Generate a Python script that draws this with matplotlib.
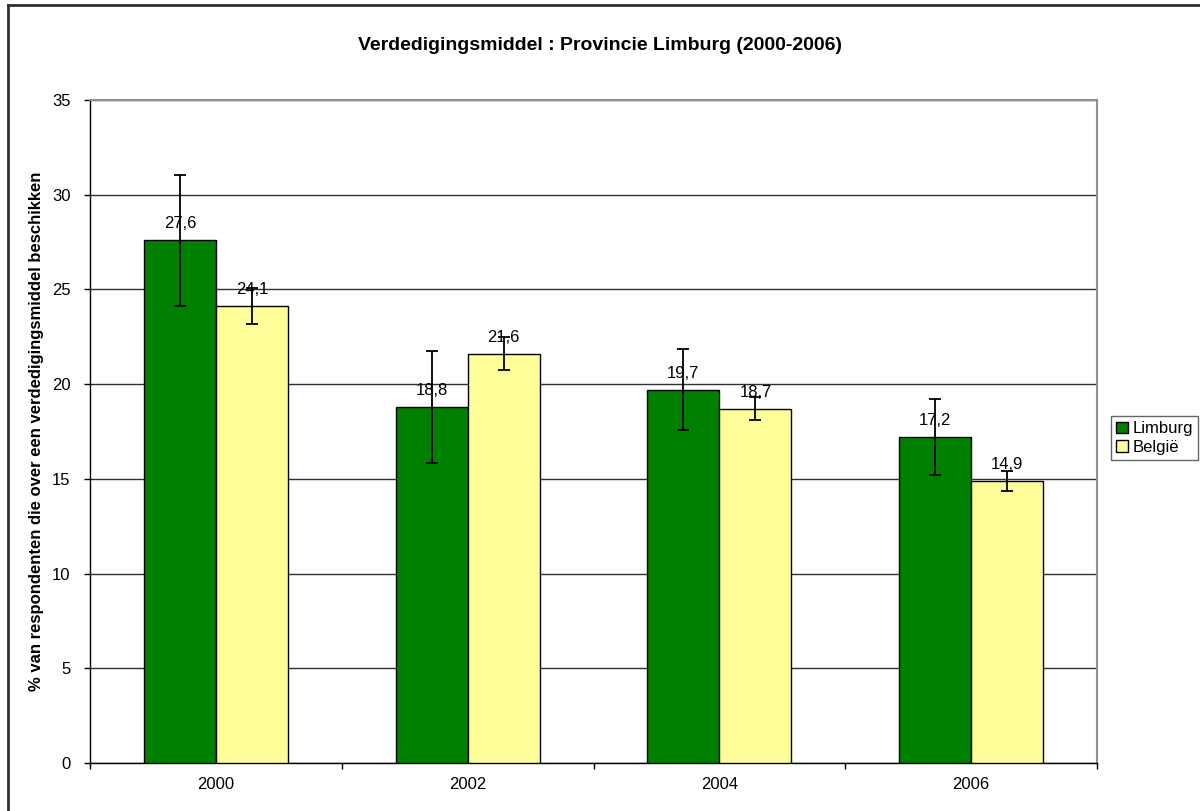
import numpy as np
import matplotlib
matplotlib.use('Agg')
import matplotlib.pyplot as plt
from matplotlib.patches import Patch
from matplotlib.lines import Line2D

plt.rcParams['font.family'] = ['Liberation Sans', 'DejaVu Sans']

# data
jaren = ['2000', '2002', '2004', '2006']
limburg = [27.6, 18.8, 19.7, 17.2]
belgie = [24.1, 21.6, 18.7, 14.9]
limburg_err = [3.45, 2.95, 2.14, 2.0]
belgie_err = [0.95, 0.87, 0.6, 0.53]

groen = '#008000'
geel = '#FFFF99'

fig = plt.figure(figsize=(12, 8.11), dpi=100)
ax = fig.add_axes([90 / 1200, 48 / 811, 1007 / 1200, 663 / 811])

x = np.arange(len(jaren))
w = 0.286
ax.bar(x - w / 2, limburg, w, color=groen, edgecolor='black', linewidth=1, zorder=3)
ax.bar(x + w / 2, belgie, w, color=geel, edgecolor='black', linewidth=1, zorder=3)
ax.errorbar(x - w / 2, limburg, yerr=limburg_err, fmt='none', ecolor='black',
            elinewidth=1.3, capsize=4, capthick=1.3, zorder=4)
ax.errorbar(x + w / 2, belgie, yerr=belgie_err, fmt='none', ecolor='black',
            elinewidth=1.3, capsize=4, capthick=1.3, zorder=4)

for xi, v in zip(x - w / 2, limburg):
    ax.annotate(f'{v:.1f}'.replace('.', ','), (xi, v), xytext=(0, 12),
                textcoords='offset points', ha='center', va='center', fontsize=12, zorder=5)
for xi, v in zip(x + w / 2, belgie):
    ax.annotate(f'{v:.1f}'.replace('.', ','), (xi, v), xytext=(0, 12),
                textcoords='offset points', ha='center', va='center', fontsize=12, zorder=5)

ax.set_xlim(-0.5, len(jaren) - 0.5)
ax.set_ylim(0, 35)
ax.set_yticks(range(0, 36, 5))
ax.yaxis.grid(True, color='#303030', linewidth=1, zorder=0)
ax.set_axisbelow(True)

ax.set_xticks(x)
ax.set_xticklabels(jaren)
ax.set_xticks(np.arange(-0.5, len(jaren)), minor=True)
ax.tick_params(axis='x', which='major', length=0, pad=10, labelsize=12)
ax.tick_params(axis='x', which='minor', length=4, direction='out', width=1)
ax.tick_params(axis='y', length=4, direction='out', width=1, pad=10, labelsize=12)

for s in ['top', 'right']:
    ax.spines[s].set_color('#909090')
    ax.spines[s].set_linewidth(1.5)
for s in ['left', 'bottom']:
    ax.spines[s].set_color('black')
    ax.spines[s].set_linewidth(1)

ax.set_ylabel('% van respondenten die over een verdedigingsmiddel beschikken',
              fontsize=12, fontweight='bold', va='center')
ax.yaxis.set_label_coords((37 - 90) / 1007, 0.5)
fig.text(0.5, (811 - 45) / 811, 'Verdedigingsmiddel : Provincie Limburg (2000-2006)',
         ha='center', va='center', fontsize=14, fontweight='bold')

handles = [Patch(facecolor=groen, edgecolor='black', label='Limburg'),
           Patch(facecolor=geel, edgecolor='black', label='België')]
leg = fig.legend(handles=handles, loc='center left', bbox_to_anchor=(1111 / 1200, (811 - 438) / 811),
                 fontsize=12, frameon=True, fancybox=False, handlelength=0.7, handleheight=0.7,
                 handletextpad=0.3, borderpad=0.3, labelspacing=0.2, borderaxespad=0)
leg.get_frame().set_edgecolor('#404040')
leg.get_frame().set_linewidth(1)

# chart border (top and left edge visible)
fig.add_artist(Line2D([8 / 1200, 8 / 1200], [0, (811 - 5) / 811], color='#303030', linewidth=2,
                      transform=fig.transFigure))
fig.add_artist(Line2D([8 / 1200, 1], [(811 - 5) / 811, (811 - 5) / 811], color='#303030', linewidth=2,
                      transform=fig.transFigure))

fig.savefig('out.png', dpi=100)
